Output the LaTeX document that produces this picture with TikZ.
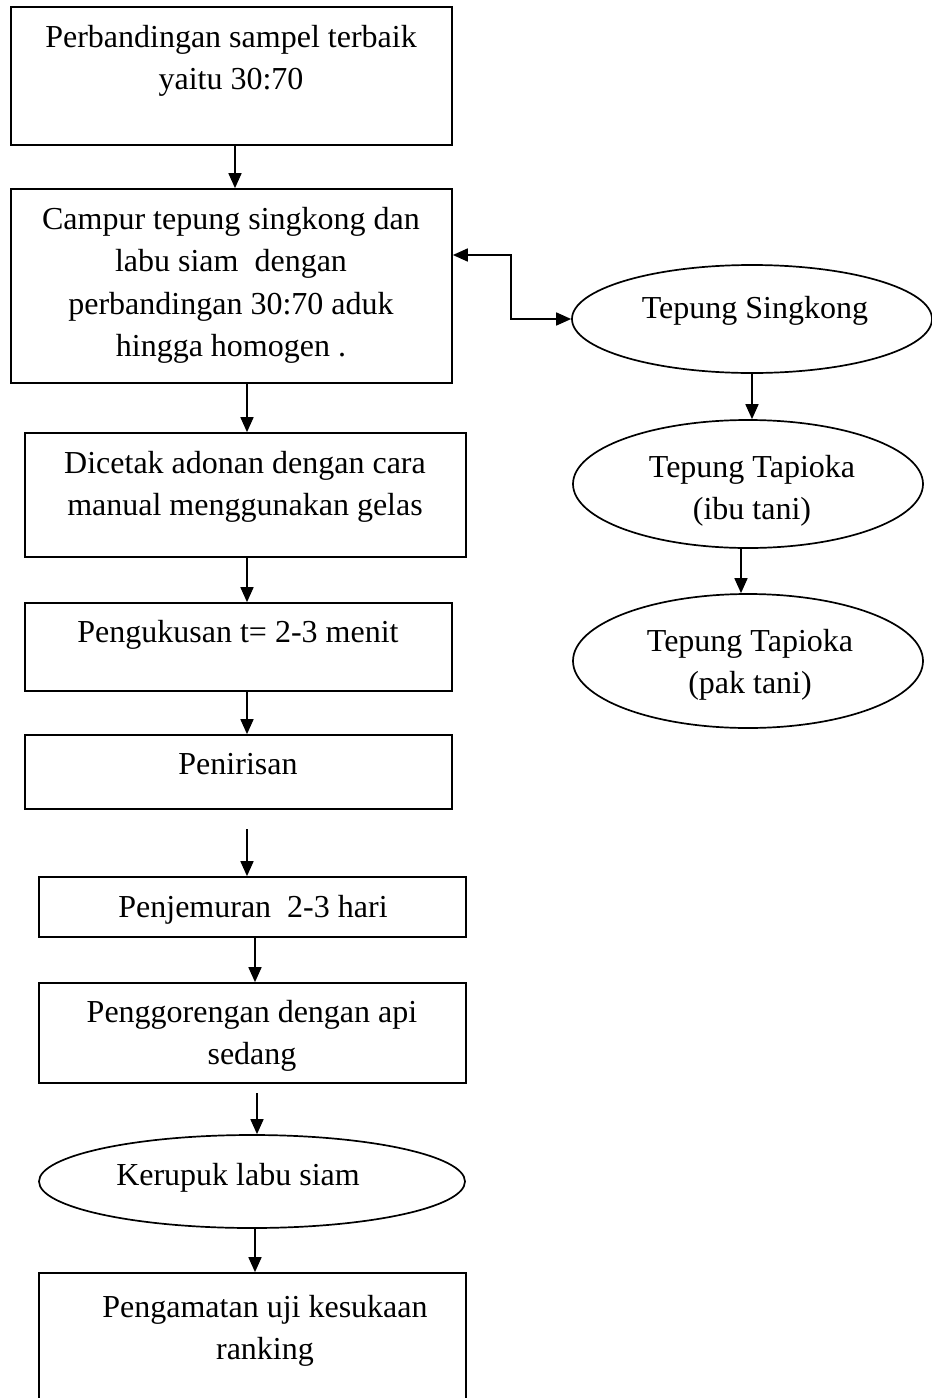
\documentclass[tikz,border=0pt]{standalone}
\usepackage{fontspec}
\setmainfont{Liberation Serif}
\usetikzlibrary{arrows.meta,shapes.geometric,calc}
\newcommand{\mlines}[1]{\begin{tabular}[t]{@{}c@{}}#1\end{tabular}}
\begin{document}
\begin{tikzpicture}[x=0.5pt,y=-0.5pt,
  line width=0.85pt,
  boxnode/.style={draw,rectangle,inner sep=0pt},
  ovalnode/.style={draw,ellipse,inner sep=0pt},
  txt/.style={anchor=base,inner sep=0pt,font=\fontsize{16}{21.25}\selectfont},
  arr/.style={-{Triangle[length=7.5pt,width=6.5pt]}},
  arrboth/.style={{Triangle[length=7.5pt,width=6.5pt]}-{Triangle[length=7.5pt,width=6.5pt]}}]
\useasboundingbox (0,0) rectangle (932,1398);
\clip (0,0) rectangle (932,1398);
% boxes
\node[boxnode,minimum width=220.5pt,minimum height=69pt] (b1) at (231.5,76) {};
\node[boxnode,minimum width=220.5pt,minimum height=97pt] (b2) at (231.5,286) {};
\node[boxnode,minimum width=220.5pt,minimum height=62pt] (b3) at (245.5,495) {};
\node[boxnode,minimum width=213.5pt,minimum height=44pt] (b4) at (238.5,647) {};
\node[boxnode,minimum width=213.5pt,minimum height=37pt] (b5) at (238.5,772) {};
\node[boxnode,minimum width=213.5pt,minimum height=30pt] (b6) at (252.5,907) {};
\node[boxnode,minimum width=213.5pt,minimum height=50pt] (b7) at (252.5,1033) {};
\node[ovalnode,minimum width=213pt,minimum height=46.5pt] (e4) at (252,1181.5) {};
\node[boxnode,minimum width=213.5pt,minimum height=73.5pt] (b8) at (252.5,1346.5) {};
\node[ovalnode,minimum width=180pt,minimum height=54pt] (e1) at (752,319) {};
\node[ovalnode,minimum width=175pt,minimum height=64pt] (e2) at (748,484) {};
\node[ovalnode,minimum width=175pt,minimum height=67pt] (e3) at (748,661) {};
% texts
\node[txt] (t1) at (231,47) {\mlines{Perbandingan sampel terbaik\\yaitu 30:70}};
\node[txt] (t2) at (231,229) {\mlines{Campur tepung singkong dan\\labu siam~ dengan\\perbandingan 30:70 aduk\\hingga homogen .}};
\node[txt] (t3) at (245,473) {\mlines{Dicetak adonan dengan cara\\manual menggunakan gelas}};
\node[txt] (t4) at (238,642) {Pengukusan t= 2-3 menit};
\node[txt] (t5) at (238,774) {Penirisan};
\node[txt] (t6) at (253,917) {Penjemuran~ 2-3 hari};
\node[txt] (t7) at (252,1022) {\mlines{Penggorengan dengan api\\sedang}};
\node[txt] (t8) at (238,1185) {Kerupuk labu siam};
\node[txt] (t9) at (265,1317) {\mlines{Pengamatan uji kesukaan\\ranking}};
\node[txt] (t10) at (755,318) {Tepung Singkong};
\node[txt] (t11) at (752,477) {\mlines{Tepung Tapioka\\(ibu tani)}};
\node[txt] (t12) at (750,651) {\mlines{Tepung Tapioka\\(pak tani)}};
% connectors
\coordinate (cx) at (247,0);
\draw[arr] ($(b1.south)+(3.5,0)$) -- ($(b2.north)+(3.5,0)$);
\draw[arr] (b2.south -| cx) -- (b3.north -| cx);
\draw[arr] (b3.south -| cx) -- (b4.north -| cx);
\draw[arr] (b4.south -| cx) -- (b5.north -| cx);
\coordinate (f1) at (247,829);
\draw[arr] (f1) -- (b6.north -| f1);
\draw[arr] ($(b6.south)+(2.5,0)$) -- ($(b7.north)+(2.5,0)$);
\coordinate (f2) at (257,1093);
\draw[arr] (f2) -- (e4.north -| f2);
\draw[arr] ($(e4.south)+(3,0)$) -- ($(b8.north -| e4.south)+(3,0)$);
\draw[arr] (e1.south) -- (e2.north -| e1.south);
\draw[arr] ($(e2.south)+(-7,0)$) -- ($(e3.north)+(-7,0)$);
\coordinate (k1) at (511,255);
\coordinate (k2) at (511,319);
\draw[arrboth] (b2.east |- k1) -- (k1) -- (k2) -- (e1.west);
\end{tikzpicture}
\end{document}
